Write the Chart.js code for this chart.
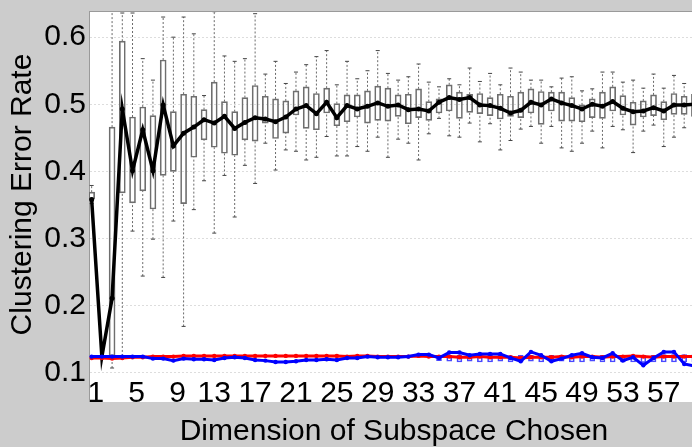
<!DOCTYPE html>
<html>
<head>
<meta charset="utf-8">
<title>Clustering Error Rate</title>
<script src="https://cdn.jsdelivr.net/npm/chart.js"></script>
<style>
    html, body { margin: 0; padding: 0; overflow: hidden; background: #cccccc; }
    canvas { display: block; }
</style>
</head>
<body>
<canvas id="grafica" width="704" height="447"></canvas>
<script>
// dimension of the subspace (x)
const dims = [1, 2, 3, 4, 5, 6, 7, 8, 9, 10, 11, 12, 13, 14, 15, 16, 17, 18, 19, 20,
    21, 22, 23, 24, 25, 26, 27, 28, 29, 30, 31, 32, 33, 34, 35, 36, 37, 38, 39, 40,
    41, 42, 43, 44, 45, 46, 47, 48, 49, 50, 51, 52, 53, 54, 55, 56, 57, 58, 59, 60];

// thick black line
const meanErr = [0.358, 0.124, 0.211, 0.493, 0.401, 0.462, 0.401, 0.499, 0.438, 0.457,
    0.466, 0.477, 0.472, 0.482, 0.464, 0.473, 0.480, 0.478, 0.474, 0.481,
    0.493, 0.498, 0.486, 0.503, 0.480, 0.498, 0.493, 0.497, 0.502, 0.497,
    0.499, 0.492, 0.493, 0.490, 0.503, 0.510, 0.507, 0.510, 0.499, 0.498,
    0.494, 0.487, 0.491, 0.503, 0.499, 0.508, 0.502, 0.498, 0.493, 0.500,
    0.497, 0.504, 0.494, 0.489, 0.490, 0.495, 0.490, 0.499, 0.499, 0.500];

// box plots (gray)
const whiskLo = [0.352, 0.122, 0.107, 0.125, 0.311, 0.244, 0.299, 0.242, 0.326, 0.169,
    0.343, 0.386, 0.308, 0.394, 0.332, 0.409, 0.382, 0.442, 0.402, 0.432,
    0.430, 0.417, 0.421, 0.452, 0.423, 0.423, 0.437, 0.430, 0.451, 0.421,
    0.448, 0.442, 0.417, 0.456, 0.479, 0.453, 0.451, 0.472, 0.444, 0.471,
    0.432, 0.446, 0.463, 0.467, 0.442, 0.467, 0.435, 0.430, 0.442, 0.460,
    0.435, 0.467, 0.462, 0.428, 0.460, 0.469, 0.437, 0.451, 0.465, 0.455];
const boxLo = [0.359, 0.123, 0.125, 0.368, 0.353, 0.371, 0.344, 0.394, 0.400, 0.352,
    0.421, 0.447, 0.436, 0.427, 0.424, 0.447, 0.445, 0.472, 0.449, 0.457,
    0.484, 0.464, 0.462, 0.487, 0.468, 0.474, 0.481, 0.472, 0.476, 0.475,
    0.482, 0.471, 0.480, 0.476, 0.487, 0.490, 0.479, 0.488, 0.486, 0.483,
    0.478, 0.482, 0.480, 0.487, 0.470, 0.490, 0.475, 0.475, 0.474, 0.480,
    0.479, 0.490, 0.484, 0.469, 0.481, 0.483, 0.477, 0.485, 0.485, 0.482];
const boxHi = [0.369, 0.125, 0.466, 0.594, 0.481, 0.496, 0.483, 0.566, 0.489, 0.515,
    0.512, 0.492, 0.533, 0.504, 0.489, 0.510, 0.528, 0.512, 0.508, 0.505,
    0.520, 0.526, 0.516, 0.524, 0.501, 0.514, 0.514, 0.520, 0.527, 0.524,
    0.514, 0.515, 0.523, 0.504, 0.508, 0.529, 0.518, 0.515, 0.516, 0.510,
    0.515, 0.512, 0.518, 0.523, 0.519, 0.518, 0.518, 0.510, 0.499, 0.508,
    0.518, 0.526, 0.513, 0.503, 0.505, 0.514, 0.504, 0.516, 0.512, 0.515];
const whiskHi = [0.379, 0.126, 0.660, 0.636, 0.636, 0.568, 0.536, 0.630, 0.600, 0.630,
    0.605, 0.513, 0.638, 0.572, 0.564, 0.568, 0.635, 0.545, 0.564, 0.531,
    0.548, 0.559, 0.571, 0.580, 0.529, 0.564, 0.538, 0.550, 0.580, 0.546,
    0.536, 0.541, 0.560, 0.533, 0.526, 0.538, 0.529, 0.554, 0.534, 0.546,
    0.529, 0.554, 0.548, 0.536, 0.536, 0.526, 0.539, 0.541, 0.520, 0.523,
    0.548, 0.548, 0.533, 0.536, 0.524, 0.545, 0.524, 0.543, 0.531, 0.540];

// red and blue lines near the bottom
const redErr = [0.122, 0.122, 0.121, 0.122, 0.123, 0.123, 0.124, 0.124, 0.124, 0.125,
    0.125, 0.125, 0.125, 0.125, 0.125, 0.125, 0.125, 0.125, 0.125, 0.125,
    0.125, 0.125, 0.125, 0.125, 0.125, 0.124, 0.125, 0.125, 0.124, 0.124,
    0.124, 0.124, 0.125, 0.124, 0.124, 0.124, 0.123, 0.123, 0.124, 0.123,
    0.123, 0.123, 0.122, 0.123, 0.123, 0.123, 0.124, 0.123, 0.124, 0.124,
    0.123, 0.124, 0.124, 0.125, 0.124, 0.123, 0.124, 0.124, 0.124, 0.124];
const blueErr = [0.124, 0.124, 0.124, 0.124, 0.124, 0.124, 0.121, 0.121, 0.118, 0.121,
    0.120, 0.120, 0.119, 0.122, 0.123, 0.122, 0.119, 0.118, 0.116, 0.116,
    0.117, 0.119, 0.119, 0.120, 0.119, 0.122, 0.122, 0.124, 0.123, 0.123,
    0.123, 0.124, 0.127, 0.127, 0.122, 0.130, 0.130, 0.126, 0.128, 0.128,
    0.128, 0.122, 0.117, 0.131, 0.126, 0.117, 0.121, 0.126, 0.129, 0.123,
    0.122, 0.129, 0.118, 0.123, 0.111, 0.122, 0.131, 0.131, 0.113, 0.110];

// small blue boxes
const blueDims = [35, 36, 37, 38, 39, 40, 41, 42, 43, 44, 45, 46, 47, 48, 49, 50,
    51, 52, 53, 54, 55, 56, 57, 58, 59, 60];
const blueBoxLo = [0.118, 0.117, 0.116, 0.117, 0.116, 0.116, 0.117, 0.116, 0.116, 0.117,
    0.116, 0.116, 0.117, 0.116, 0.116, 0.117, 0.116, 0.116, 0.116, 0.116,
    0.115, 0.116, 0.116, 0.116, 0.116, 0.116];
const blueBoxHi = [0.125, 0.126, 0.126, 0.126, 0.126, 0.126, 0.126, 0.125, 0.126, 0.126,
    0.126, 0.126, 0.126, 0.127, 0.126, 0.126, 0.126, 0.126, 0.126, 0.126,
    0.126, 0.126, 0.127, 0.127, 0.127, 0.127];

const yTicks = [0.1, 0.2, 0.3, 0.4, 0.5, 0.6];
const yTickLabels = ["0.1", "0.2", "0.3", "0.4", "0.5", "0.6"];
const xTicks = [1, 5, 9, 13, 17, 21, 25, 29, 33, 37, 41, 45, 49, 53, 57];
const xTickLabels = [" 1", " 5", " 9", "13", "17", "21", "25", "29", "33", "37", "41", "45", "49", "53", "57"];

const fuente = "'Liberation Sans', Arial, Helvetica, sans-serif";

// whiskers: lo -> q1, gap, q3 -> hi, gap
let bigotes = [];
dims.forEach((d, i) => {
    bigotes.push({x: d, y: whiskLo[i]}, {x: d, y: boxLo[i]}, {x: d, y: null});
    bigotes.push({x: d, y: boxHi[i]}, {x: d, y: whiskHi[i]}, {x: d, y: null});
});

// white axes box also covers the tick label strip under the plot
const fondo = {
    id: "fondo",
    beforeDraw(chart) {
        const {ctx, chartArea: a} = chart;
        ctx.save();
        ctx.fillStyle = "#cccccc";
        ctx.fillRect(0, 0, chart.width, chart.height);
        ctx.fillStyle = "#ffffff";
        ctx.fillRect(a.left, a.top, a.right - a.left, a.bottom - a.top + 24);
        ctx.restore();
    },
    afterDraw(chart) {
        const {ctx, chartArea: a} = chart;
        ctx.save();
        ctx.strokeStyle = "#9a9a9a";
        ctx.lineWidth = 1;
        ctx.beginPath();
        ctx.moveTo(a.left, a.top + 0.5);
        ctx.lineTo(a.right, a.top + 0.5);
        ctx.moveTo(a.left + 0.5, a.bottom);
        ctx.lineTo(a.left + 0.5, a.bottom + 24);
        ctx.stroke();
        ctx.restore();
    }
};

let canva = document.querySelector("#grafica").getContext("2d");

var chart = new Chart(canva, {
    type: "bar",
    data: {
        datasets: [
            {
                type: "line",
                label: "blue",
                data: dims.map((d, i) => ({x: d, y: blueErr[i]})),
                borderColor: "#0000ff",
                backgroundColor: "#0000ff",
                borderWidth: 3,
                pointRadius: 2.2,
                pointBorderWidth: 0,
                order: 1
            },
            {
                type: "line",
                label: "red",
                data: dims.map((d, i) => ({x: d, y: redErr[i]})),
                borderColor: "#ff0000",
                backgroundColor: "#ff0000",
                borderWidth: 3,
                pointRadius: 2.2,
                pointBorderWidth: 0,
                order: 2
            },
            {
                label: "blue boxes",
                data: blueDims.map((d, i) => ({x: d, y: [blueBoxLo[i], blueBoxHi[i]]})),
                backgroundColor: "rgba(0,0,0,0)",
                borderColor: "#4a4aff",
                borderWidth: 1,
                borderSkipped: false,
                barThickness: 5,
                grouped: false,
                order: 3
            },
            {
                type: "line",
                label: "mean",
                data: dims.map((d, i) => ({x: d, y: meanErr[i]})),
                borderColor: "#000000",
                backgroundColor: "#000000",
                borderWidth: 3.5,
                pointRadius: 2.5,
                pointBorderWidth: 0,
                order: 4
            },
            {
                label: "boxes",
                data: dims.map((d, i) => ({x: d, y: [boxLo[i], boxHi[i]]})),
                backgroundColor: "rgba(0,0,0,0)",
                borderColor: "#6e6e6e",
                borderWidth: 1,
                borderSkipped: false,
                barThickness: 6,
                grouped: false,
                order: 5
            },
            {
                type: "line",
                label: "whiskers",
                data: bigotes,
                borderColor: "#6a6a6a",
                borderWidth: 1,
                borderDash: [2, 2],
                spanGaps: false,
                pointStyle: "line",
                pointRadius: (c) => (c.dataIndex % 6 === 0 || c.dataIndex % 6 === 4) ? 2 : 0,
                pointBorderColor: "#444444",
                pointBorderWidth: 1,
                order: 6
            }
        ]
    },
    options: {
        responsive: false,
        animation: false,
        layout: { padding: { top: 11, left: 0, right: 0, bottom: 0 } },
        plugins: {
            legend: { display: false },
            tooltip: { enabled: false }
        },
        scales: {
            x: {
                type: "linear",
                min: 0.74,
                max: 60.45,
                offset: false,
                grid: { display: false, drawTicks: false },
                border: { display: false },
                afterBuildTicks: (s) => { s.ticks = xTicks.map(v => ({value: v})); },
                afterFit: (s) => { s.height = 69; s.paddingLeft = 0; s.paddingRight = 0; },
                ticks: {
                    padding: -2,
                    color: "#000000",
                    maxRotation: 0,
                    autoSkip: false,
                    font: { family: fuente, size: 30 },
                    callback: (v, i) => xTickLabels[i]
                },
                title: {
                    display: true,
                    text: "Dimension of Subspace Chosen",
                    color: "#000000",
                    font: { family: fuente, size: 30, lineHeight: 1 },
                    padding: { top: 0, bottom: 0 }
                }
            },
            y: {
                min: 0.0921,
                max: 0.639,
                grid: { color: "#dddddd", drawTicks: false },
                border: { display: true, color: "#9a9a9a", dash: [2, 2] },
                afterBuildTicks: (s) => { s.ticks = yTicks.map(v => ({value: v})); },
                afterFit: (s) => { s.width = 89; s.paddingTop = 0; s.paddingBottom = 0; },
                ticks: {
                    padding: 3,
                    color: "#000000",
                    font: { family: fuente, size: 30 },
                    callback: (v, i) => yTickLabels[i]
                },
                title: {
                    display: true,
                    text: "Clustering Error Rate",
                    color: "#000000",
                    font: { family: fuente, size: 30 },
                    padding: { top: 5, bottom: 0 }
                }
            }
        }
    },
    plugins: [fondo]
});
</script>
</body>
</html>
